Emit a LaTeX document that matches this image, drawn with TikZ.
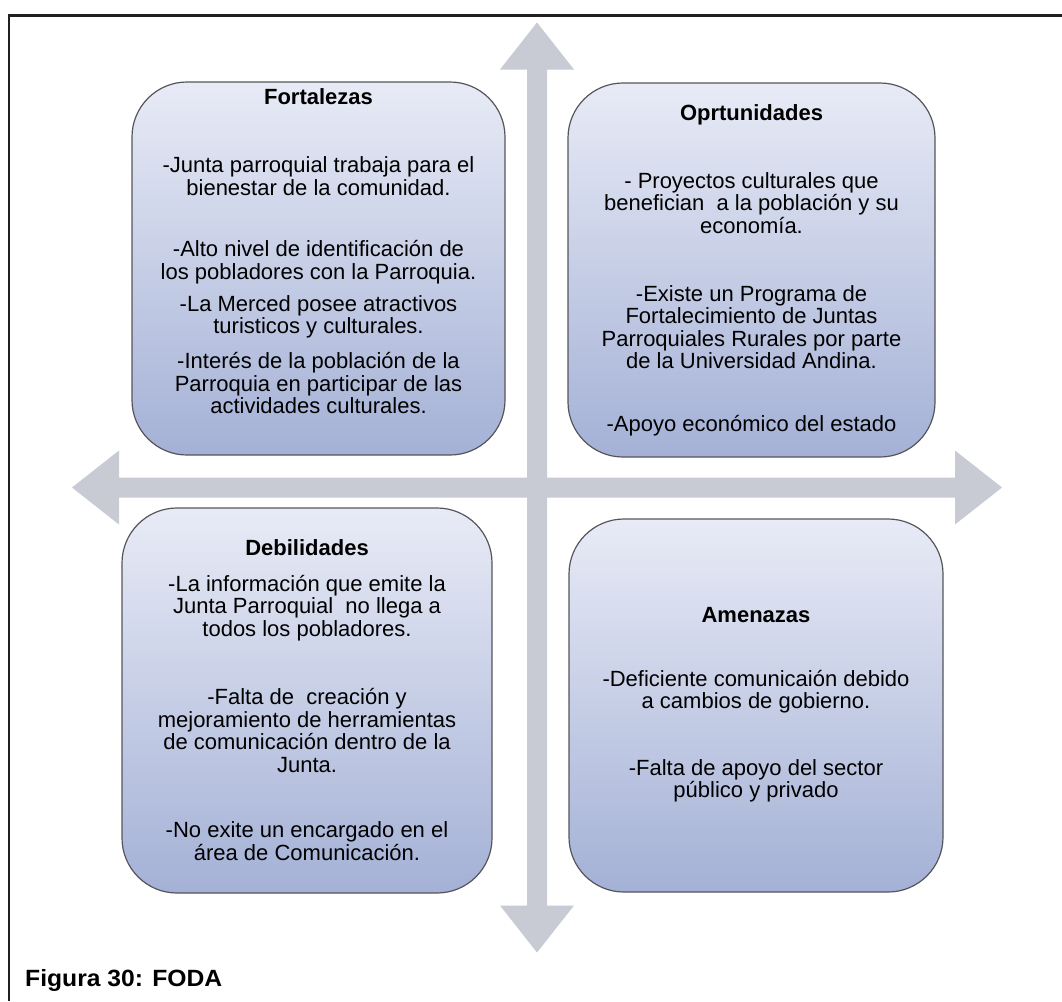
\documentclass[tikz,border=0pt]{standalone}
\usepackage{fontspec}
\setmainfont{Liberation Sans}
\usetikzlibrary{math}

\definecolor{axisfill}{RGB}{200,202,212}
\definecolor{boxtop}{RGB}{232,235,246}
\definecolor{boxbot}{RGB}{164,177,214}
\definecolor{boxedge}{RGB}{85,86,92}
\definecolor{framec}{RGB}{35,31,32}

\tikzset{
  quad/.style={draw=boxedge, line width=1.2pt, rounded corners=55pt,
    top color=boxtop, bottom color=boxbot},
  title/.style={font=\bfseries\fontsize{22}{22.5}\selectfont, inner sep=0pt},
  body/.style={align=center, font=\fontsize{22}{22.5}\selectfont, inner sep=0pt},
}

\begin{document}
\begin{tikzpicture}[x=1pt,y=-1pt]
\useasboundingbox (0,0) rectangle (1062,1001);
\draw[framec, line width=2.5pt] (9,1001) -- (9,15.7) -- (1062,15.7);

\tikzmath{
    \armlen = 465;
    \headlen = 47;
    \headw = 37;
    \shaftw = 10;
}
\foreach \a in {0,90}{
  \begin{scope}[shift={(537,487.5)}, rotate=\a]
    \fill[axisfill] (-\armlen,0) -- (-\armlen+\headlen,\headw) -- (-\armlen+\headlen,\shaftw)
      -- (\armlen-\headlen,\shaftw) -- (\armlen-\headlen,\headw) -- (\armlen,0)
      -- (\armlen-\headlen,-\headw) -- (\armlen-\headlen,-\shaftw)
      -- (-\armlen+\headlen,-\shaftw) -- (-\armlen+\headlen,-\headw) -- cycle;
  \end{scope}
}

\node[quad, minimum width=373pt, minimum height=373pt] (fort) at (318.5,268.5) {};
\node[quad, minimum width=367pt, minimum height=374pt] (oport) at (751.5,270) {};
\node[quad, minimum width=370pt, minimum height=385pt] (debil) at (307,700.5) {};
\node[quad, minimum width=374pt, minimum height=373pt] (amen) at (756,705.5) {};

\node[title] (fort_t) at (318.5,97) {Fortalezas};
\node[body] (fort_1) at (318.5,176) {-Junta parroquial trabaja para el\\bienestar de la comunidad.};
\node[body] (fort_2) at (318.5,262) {-Alto nivel de identificación de\\los pobladores con la Parroquia.};
\node[body] (fort_3) at (318.5,317) {-La Merced posee atractivos\\turisticos y culturales.};
\node[body] (fort_4) at (318.5,383.5) {-Interés de la población de la\\Parroquia en participar de las\\actividades culturales.};

\node[title] (oport_t) at (751.5,115) {Oprtunidades};
\node[body] (oport_1) at (751.5,203) {- Proyectos culturales que\\benefician\ \ a la población y su\\economía.};
\node[body] (oport_2) at (751.5,327) {-Existe un Programa de\\Fortalecimiento de Juntas\\Parroquiales Rurales por parte\\de la Universidad Andina.};
\node[body] (oport_3) at (751.5,426) {-Apoyo económico del estado};

\node[title] (debil_t) at (307,548) {Debilidades};
\node[body] (debil_1) at (307,608) {-La información que emite la\\Junta Parroquial\ \ no llega a\\todos los pobladores.};
\node[body] (debil_2) at (307,730.5) {-Falta de\ \ creación y\\mejoramiento de herramientas\\de comunicación dentro de la\\Junta.};
\node[body] (debil_3) at (307,841) {-No exite un encargado en el\\área de Comunicación.};

\node[title] (amen_t) at (756,615) {Amenazas};
\node[body] (amen_1) at (756,691.5) {-Deficiente comunicaión debido\\a cambios de gobierno.};
\node[body] (amen_2) at (756,781) {-Falta de apoyo del sector\\público y privado};

\node[anchor=base west, inner sep=0pt, font=\bfseries\fontsize{23.5}{25}\selectfont] (caption) at (25,986) {\scalebox{1.05}[1]{Figura 30: FODA}};
\end{tikzpicture}
\end{document}
